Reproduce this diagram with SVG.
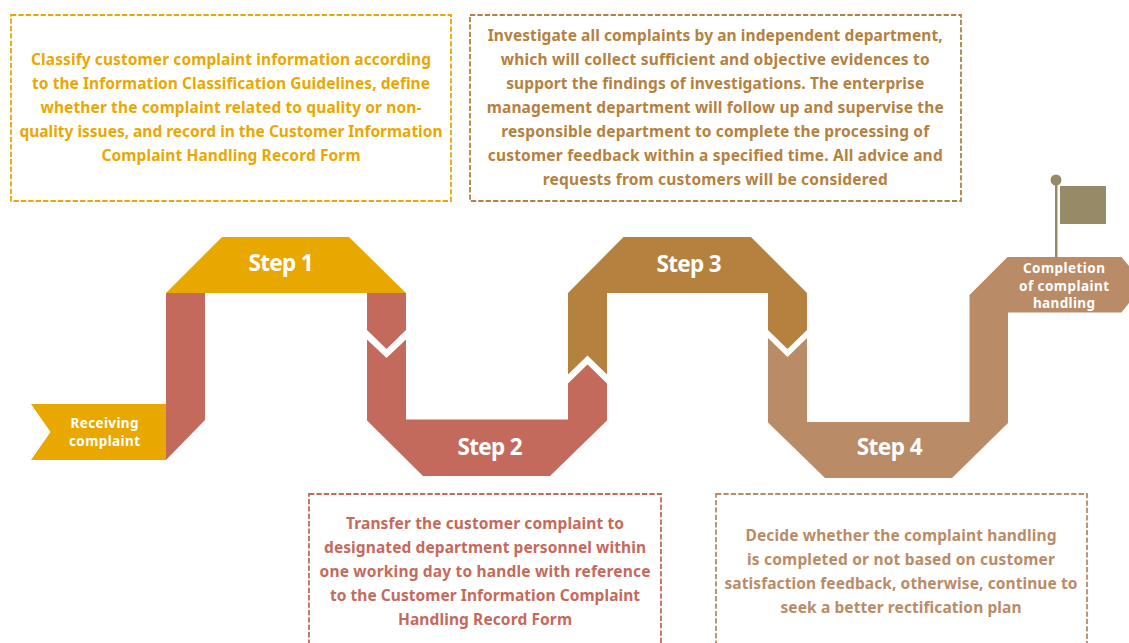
<svg xmlns="http://www.w3.org/2000/svg" width="1129" height="643" viewBox="0 0 1129 643">
<style>
text{font-family:"Noto Sans","Liberation Sans",sans-serif;font-weight:700;text-anchor:middle}
.b{font-size:15.500px}
.s{font-size:22.500px;fill:#fff}
.l{font-size:13.500px;fill:#fff}
.box{fill:none;stroke-width:1.800;stroke-dasharray:5.300 2.100}
.y{fill:#e9a800}.r{fill:#c46a5c}.g{fill:#b5813e}.t{fill:#b98c67}
</style>
<rect width="1129" height="643" fill="#fff"/>
<g id="connectors">
<polygon class="r" points="166,293 205,293 205,420 166,460"/>
<polygon class="r" points="367,293 406,293 406,330 386.500,349 367,330"/>
<polygon class="g" points="568,293 607,293 607,374.500 587.500,355.500 568,374.500"/>
<polygon class="g" points="768,293 807,293 807,330 787.500,349 768,330"/>
</g>
<g id="start"><polygon class="y" points="31,404 166,404 166,460 31,460 50.500,432"/><text class="l" x="104.500" y="428" textLength="68">Receiving</text><text class="l" x="104.500" y="446" textLength="71">complaint</text></g>
<g id="step1"><polygon class="y" points="166,293 222,237 349,237 406,293"/><text class="s" x="281" y="271" textLength="65">Step 1</text></g>
<g id="step2"><polygon class="r" points="367,339.500 386.500,358 406,339.500 406,419.500 568,419.500 568,383.500 587.500,364.500 607,383.500 607,420.500 550,476 423,476 367,420.500"/><text class="s" x="490" y="455" textLength="65">Step 2</text></g>
<g id="step3"><polygon class="g" points="568,293 623.500,237 751,237 807,293"/><text class="s" x="689" y="272" textLength="65">Step 3</text></g>
<g id="step4"><polygon class="t" points="768,338 787.500,357 807,338 807,422 969.500,422 969.500,295 1007.500,257 1121.500,257 1129,266 1129,303 1121.500,312.500 1008,312.500 1008,423 952,478 825,478 768,422.500"/><text class="s" x="889.700" y="455" textLength="66">Step 4</text></g>
<g id="end"><text class="l" x="1064" y="273" textLength="82">Completion</text><text class="l" x="1064" y="291" textLength="90">of complaint</text><text class="l" x="1064" y="308" textLength="62">handling</text></g>
<g id="flag"><rect x="1055" y="180" width="2.500" height="77" fill="#978b67"/><circle cx="1056" cy="180" r="5.500" fill="#978b67"/><rect x="1060" y="186" width="46" height="38" fill="#978b67"/></g>
<g id="note1"><rect class="box" x="11" y="15" width="440" height="186" stroke="#e9a800"/>
<g fill="#e9a800" class="b"><text x="231" y="65" textLength="400">Classify customer complaint information according</text><text x="231" y="89" textLength="398">to the Information Classification Guidelines, define</text><text x="231" y="113" textLength="381">whether the complaint related to quality or non-</text><text x="231" y="137" textLength="423">quality issues, and record in the Customer Information</text><text x="231" y="161" textLength="259">Complaint Handling Record Form</text></g></g>
<g id="note3"><rect class="box" x="470" y="15" width="491" height="186" stroke="#b5813e"/>
<g fill="#b5813e" class="b"><text x="715.200" y="41" textLength="455">Investigate all complaints by an independent department,</text><text x="715.200" y="65" textLength="429">which will collect sufficient and objective evidences to</text><text x="715.200" y="89" textLength="418">support the findings of investigations. The enterprise</text><text x="715.200" y="113" textLength="457">management department will follow up and supervise the</text><text x="715.200" y="137" textLength="428">responsible department to complete the processing of</text><text x="715.200" y="161" textLength="455">customer feedback within a specified time. All advice and</text><text x="715.200" y="185" textLength="345">requests from customers will be considered</text></g></g>
<g id="note2"><rect class="box" x="309" y="494" width="352" height="160" stroke="#c46a5c"/>
<g fill="#c46a5c" class="b"><text x="485" y="529" textLength="278">Transfer the customer complaint to</text><text x="485" y="553" textLength="322">designated department personnel within</text><text x="485" y="577" textLength="331">one working day to handle with reference</text><text x="485" y="601" textLength="310">to the Customer Information Complaint</text><text x="485" y="625" textLength="174">Handling Record Form</text></g></g>
<g id="note4"><rect class="box" x="716" y="494" width="371" height="160" stroke="#b98c67"/>
<g fill="#b98c67" class="b"><text x="901" y="541" textLength="311">Decide whether the complaint handling</text><text x="901" y="565" textLength="308">is completed or not based on customer</text><text x="901" y="589" textLength="353">satisfaction feedback, otherwise, continue to</text><text x="901" y="613" textLength="241">seek a better rectification plan</text></g></g>
</svg>
